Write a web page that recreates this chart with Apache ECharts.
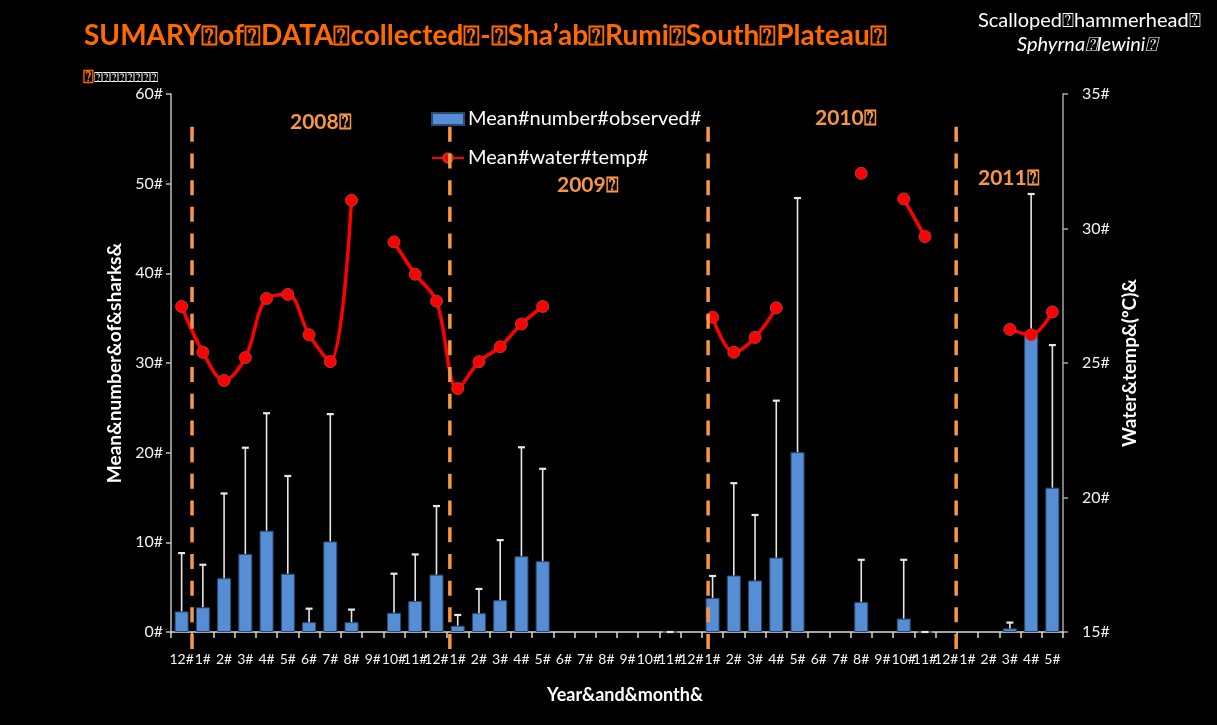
<!DOCTYPE html>
<html>
<head>
<meta charset="utf-8">
<title>Sha'ab Rumi South Plateau – Scalloped hammerhead</title>
<script src="https://cdn.jsdelivr.net/npm/echarts@6/dist/echarts.min.js"></script>
<style>
  html, body { margin: 0; padding: 0; background: #000; }
  #chart { width: 1217px; height: 725px; }
</style>
</head>
<body>
<div id="chart"></div>
<script>
// Survey months, Dec 2007 through May 2011
const categories = [
  '2007-12',
  '2008-1','2008-2','2008-3','2008-4','2008-5','2008-6','2008-7','2008-8','2008-9','2008-10','2008-11','2008-12',
  '2009-1','2009-2','2009-3','2009-4','2009-5','2009-6','2009-7','2009-8','2009-9','2009-10','2009-11','2009-12',
  '2010-1','2010-2','2010-3','2010-4','2010-5','2010-6','2010-7','2010-8','2010-9','2010-10','2010-11','2010-12',
  '2011-1','2011-2','2011-3','2011-4','2011-5'
];

// Mean number of sharks observed per dive
const sharkMean = [
  2.3,
  2.75, 6.0, 8.7, 11.3, 6.5, 1.1, 10.1, 1.1, null, 2.15, 3.45, 6.4,
  0.7, 2.1, 3.55, 8.45, 7.9, null, null, null, null, null, 0, null,
  3.8, 6.3, 5.75, 8.3, 20.05, null, null, 3.35, null, 1.5, 0, null,
  null, null, 0.4, 33.1, 16.1
];

// Mean + standard deviation (top of the error bar)
const sharkUpper = [
  8.8,
  7.5, 15.45, 20.55, 24.4, 17.4, 2.6, 24.3, 2.5, null, 6.5, 8.65, 14.05,
  1.9, 4.8, 10.25, 20.6, 18.2, null, null, null, null, null, 0, null,
  6.25, 16.6, 13.05, 25.8, 48.4, null, null, 8.05, null, 8.05, 0, null,
  null, null, 1.05, 48.85, 32.0
];

// Mean water temperature (°C)
const waterTemp = [
  27.1,
  25.4, 24.35, 25.2, 27.4, 27.55, 26.05, 25.05, 31.05, null, 29.5, 28.3, 27.3,
  24.05, 25.05, 25.6, 26.45, 27.1, null, null, null, null, null, null, null,
  26.7, 25.4, 25.95, 27.05, null, null, null, 32.05, null, 31.1, 29.7, null,
  null, null, 26.25, 26.05, 26.9
];

// Year dividers, on the month-index scale (0 = left edge of first month)
const yearDividers = [0.99, 13.13, 25.29, 36.97];
const yearLabels = ['2008\u2370', '2009\u2370', '2010\u2370', '2011\u2370'];

const leftTicks = { min: 0, max: 60, interval: 10 };
const rightTicks = { min: 15, max: 35, interval: 5 };

const FONT = 'Lato, "Open Sans", sans-serif';
const BOX = '\u2370';

const chart = echarts.init(document.getElementById('chart'), null, { renderer: 'canvas' });

const errorData = [];
sharkMean.forEach((m, i) => {
  if (m !== null && sharkUpper[i] !== null) errorData.push([i, m, sharkUpper[i]]);
});

const option = {
  backgroundColor: '#000000',
  animation: false,
  textStyle: { fontFamily: FONT },
  grid: { left: 171, right: 154, top: 94, bottom: 93, containLabel: false },
  legend: {
    orient: 'vertical',
    left: 431,
    top: 109,
    padding: 0,
    itemWidth: 32,
    itemHeight: 12,
    itemGap: 19,
    textStyle: { color: '#ffffff', fontSize: 20, fontFamily: FONT, padding: [0, 0, 0, -1] },
    data: [
      { name: 'Mean#number#observed#', icon: 'rect' },
      { name: 'Mean#water#temp#' }
    ]
  },
  xAxis: [
    {
      type: 'category',
      data: categories,
      boundaryGap: true,
      axisLine: { lineStyle: { color: '#d9d9d9', width: 1.5 } },
      axisTick: { show: true, length: 6, interval: 0, alignWithLabel: false, lineStyle: { color: '#d9d9d9', width: 1.5 } },
      axisLabel: {
        interval: 0,
        hideOverlap: false,
        margin: 20,
        color: '#f2f2f2',
        fontSize: 14,
        fontFamily: FONT,
        formatter: v => v.split('-')[1] + '#'
      },
      name: 'Year&and&month&',
      nameLocation: 'middle',
      nameGap: 54,
      nameTextStyle: { color: '#ffffff', fontSize: 18, fontWeight: 'bold', fontFamily: FONT, padding: [0, 0, 0, 16] }
    },
    {
      type: 'value',
      min: 0,
      max: categories.length,
      show: false
    }
  ],
  yAxis: [
    {
      type: 'value',
      min: leftTicks.min,
      max: leftTicks.max,
      interval: leftTicks.interval,
      position: 'left',
      splitLine: { show: false },
      axisLine: { show: true, lineStyle: { color: '#bfbfbf', width: 1.5 } },
      axisTick: { show: true, length: 5, lineStyle: { color: '#bfbfbf', width: 1.5 } },
      axisLabel: { color: '#f2f2f2', fontSize: 16, fontFamily: FONT, margin: 8, formatter: v => v + '#' },
      name: 'Mean&number&of&sharks&',
      nameLocation: 'middle',
      nameGap: 46,
      nameTextStyle: { color: '#ffffff', fontSize: 19, fontWeight: 'bold', fontFamily: FONT }
    },
    {
      type: 'value',
      min: rightTicks.min,
      max: rightTicks.max,
      interval: rightTicks.interval,
      position: 'right',
      splitLine: { show: false },
      axisLine: { show: true, lineStyle: { color: '#a6a6a6', width: 1.5 } },
      axisTick: { show: true, length: 5, lineStyle: { color: '#a6a6a6', width: 1.5 } },
      axisLabel: { color: '#f2f2f2', fontSize: 16, fontFamily: FONT, margin: 19, formatter: v => v + '#' },
      name: 'Water&temp&(\u00BAC)&',
      nameLocation: 'middle',
      nameGap: 57,
      nameRotate: 90,
      nameTextStyle: { color: '#ffffff', fontSize: 19, fontWeight: 'bold', fontFamily: FONT }
    }
  ],
  series: [
    {
      name: 'Mean#number#observed#',
      type: 'bar',
      xAxisIndex: 0,
      yAxisIndex: 0,
      data: sharkMean,
      barWidth: 14,
      itemStyle: { color: '#558ED5', borderColor: '#2a4a72', borderWidth: 1 },
      z: 2
    },
    {
      name: 'errorBars',
      type: 'custom',
      xAxisIndex: 0,
      yAxisIndex: 0,
      data: errorData,
      z: 3,
      renderItem: (params, api) => {
        const i = api.value(0);
        const base = api.coord([i, api.value(1)]);
        const top = api.coord([i, api.value(2)]);
        const half = 3.5;
        const style = { stroke: '#e6e6e6', lineWidth: 1.6 };
        return {
          type: 'group',
          children: [
            { type: 'line', shape: { x1: base[0], y1: base[1], x2: top[0], y2: top[1] }, style },
            { type: 'line', shape: { x1: top[0] - half, y1: top[1], x2: top[0] + half, y2: top[1] }, style: { stroke: '#e6e6e6', lineWidth: 2.2 } }
          ]
        };
      }
    },
    {
      name: 'Mean#water#temp#',
      type: 'line',
      xAxisIndex: 0,
      yAxisIndex: 1,
      data: waterTemp,
      smooth: 0.35,
      connectNulls: false,
      showSymbol: true,
      showAllSymbol: true,
      symbol: 'circle',
      symbolSize: 12,
      lineStyle: { color: '#FF0000', width: 3.5 },
      itemStyle: { color: '#FF0000', borderColor: '#b83b3b', borderWidth: 1 },
      z: 4
    },
    {
      name: 'yearDividers',
      type: 'custom',
      xAxisIndex: 1,
      yAxisIndex: 0,
      data: yearDividers.map(x => [x, -1.9, 57.66]),
      z: 5,
      clip: false,
      renderItem: (params, api) => {
        const p1 = api.coord([api.value(0), api.value(1)]);
        const p2 = api.coord([api.value(0), api.value(2)]);
        return {
          type: 'line',
          shape: { x1: p1[0], y1: p1[1], x2: p2[0], y2: p2[1] },
          style: { stroke: '#F79646', lineWidth: 3.5, lineDash: [15, 11.7] }
        };
      }
    }
  ],
  graphic: [
    {
      type: 'text', left: 84, top: 22, z: 10,
      style: {
        text: 'SUMARY' + BOX + 'of' + BOX + 'DATA' + BOX + 'collected' + BOX + '-' + BOX + 'Sha\u2019ab' + BOX + 'Rumi' + BOX + 'South' + BOX + 'Plateau' + BOX,
        fill: '#FF6A00', font: 'bold 28px ' + FONT
      }
    },
    {
      type: 'text', left: 83, top: 68, z: 10,
      style: { text: BOX, fill: '#FF6A00', font: 'bold 18px ' + FONT }
    },
    {
      type: 'text', left: 94, top: 70, z: 10,
      style: { text: BOX.repeat(8), fill: '#ffffff', font: '14px ' + FONT }
    },
    {
      type: 'text', left: 978, top: 11, z: 10,
      style: { text: 'Scalloped' + BOX + 'hammerhead' + BOX, fill: '#ffffff', font: '20px ' + FONT }
    },
    {
      type: 'text', left: 1017, top: 35, z: 10,
      style: { text: 'Sphyrna' + BOX + 'lewini' + BOX, fill: '#ffffff', font: 'italic 20px ' + FONT }
    },
    { type: 'text', left: 290, top: 112, z: 10, style: { text: yearLabels[0], fill: '#F79646', font: 'bold 21px ' + FONT } },
    { type: 'text', left: 557, top: 175, z: 10, style: { text: yearLabels[1], fill: '#F79646', font: 'bold 21px ' + FONT } },
    { type: 'text', left: 815, top: 108, z: 10, style: { text: yearLabels[2], fill: '#F79646', font: 'bold 21px ' + FONT } },
    { type: 'text', left: 978, top: 168, z: 10, style: { text: yearLabels[3], fill: '#F79646', font: 'bold 21px ' + FONT } }
  ]
};

chart.setOption(option);
</script>
</body>
</html>
